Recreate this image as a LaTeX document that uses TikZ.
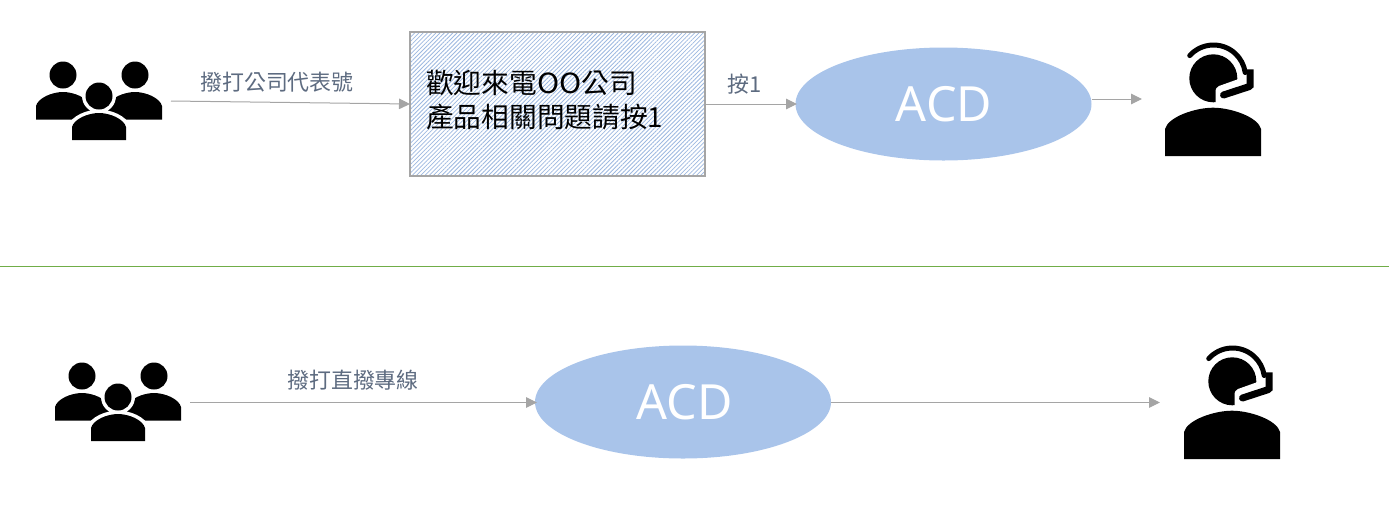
\documentclass[tikz,border=0pt]{standalone}
\usepackage{fontspec}
\setmainfont{Noto Sans}
\newfontfamily\cjkfont{Noto Sans CJK TC}
\usetikzlibrary{arrows.meta,shapes.geometric,patterns.meta}
\definecolor{linegray}{HTML}{A5A5A5}
\definecolor{labelc}{HTML}{5D6B80}
\definecolor{ovalblue}{HTML}{A9C4EA}
\definecolor{hatchblue}{HTML}{9DB8E0}
\definecolor{greenline}{HTML}{70AD47}
\tikzset{
  x=1pt,y=-1pt,
  conn/.style={draw=linegray,line width=1pt,-{Triangle[length=11pt,width=10.5pt]}},
  oval/.style={ellipse,fill=ovalblue,draw=none,minimum width=296pt,minimum height=113pt,inner sep=0pt,text=white,font=\fontsize{48.5}{50}\selectfont},
  lbl/.style={text=labelc,inner sep=0pt,font=\cjkfont\fontsize{21.9}{26}\selectfont},
  people/.pic={
    \fill (63,75) circle[radius=13.5];
    \fill (135,75) circle[radius=13.5];
    \fill (36,119.5) -- (36,106) .. controls (38,98) and (52,92) .. (63,92) .. controls (74,92) and (88,98) .. (90,106) -- (90,119.5) -- cycle;
    \fill (108,119.5) -- (108,106) .. controls (110,98) and (124,92) .. (135,92) .. controls (146,92) and (160,98) .. (162,106) -- (162,119.5) -- cycle;
    \fill[white] (99,96) circle[radius=17];
    \fill[white] (68,142) -- (68,126) .. controls (71,116) and (87,109.5) .. (99,109.5) .. controls (111,109.5) and (127,116) .. (130,126) -- (130,142) -- cycle;
    \fill (99,96) circle[radius=13.5];
    \fill (72,140) -- (72,127) .. controls (74,119) and (88,113) .. (99,113) .. controls (110,113) and (124,119) .. (126,127) -- (126,140) -- cycle;
  },
  agent/.pic={
    \fill (1213.3,78.3) circle[radius=24];
    \fill[white] (1215.5,104) -- (1215.5,92) .. controls (1215.5,88.5) and (1217,87) .. (1219,86) -- (1240,78.5) -- (1242,104) -- cycle;
    \fill (1165,156) -- (1165,129) .. controls (1168,117) and (1195,107.7) .. (1213,107.7) .. controls (1231,107.7) and (1258,117) .. (1261,129) -- (1261,156) -- cycle;
    \draw[line width=5pt,line cap=round] (1213.5,77) ++(-138:32) arc[start angle=-138,end angle=-8,radius=32];
    \fill (1246.5,69.3) -- (1253.6,69.3) -- (1253.6,87.5) -- (1246.5,90) -- cycle;
    \draw[line width=7pt,line cap=round] (1249.5,86.5) -- (1223.5,95);
  }
}
\begin{document}
\begin{tikzpicture}
\useasboundingbox (0,0) rectangle (1389,507);
% top row
\pic at (0,0) {people};
\pic at (0,0) {agent};
\coordinate (c1) at (171,101);
\coordinate (c1e) at (410,104);
\node[draw=linegray,line width=2pt,minimum width=295pt,minimum height=144pt,inner sep=0pt,
  pattern={Lines[angle=45,distance=3pt,line width=0.8pt]},pattern color=hatchblue] (box) at (557.5,104) {};
\node[anchor=west,inner sep=0pt,text=black,font=\cjkfont\fontsize{27.7}{34}\selectfont] (boxtext) at (426,104)
  {\begin{tabular}{@{}l@{}}歡迎來電\scalebox{1.08}[1]{OO}公司\\產品相關問題請按1\end{tabular}};
\node[oval] (acd1) at (943.5,104) {\hspace{1pt}\raisebox{-1pt}{ACD}};
\coordinate (c2) at (1092,99);
\coordinate (c2e) at (1142,99);
\draw[conn] (c1) -- (c1e);
\coordinate (b1) at (705,104);
\coordinate (a1) at (797,104);
\draw[conn] (b1) -- (a1);
\draw[conn] (c2) -- (c2e);
\node[lbl] (l1) at (277,82) {撥打公司代表號};
\node[lbl] (l2) at (745,84) {按1};
% divider
\coordinate (dl) at (0,266.5);
\coordinate (dr) at (1389,266.5);
\draw[greenline,line width=1pt] (dl) -- (dr);
% bottom row
\pic at (19,301) {people};
\pic at (19,303) {agent};
\node[oval] (acd2) at (683,402) {\hspace{3pt}\raisebox{-1pt}{ACD}};
\coordinate (c3) at (190,402.5);
\coordinate (a2) at (537,402.5);
\coordinate (c4) at (831,402.5);
\coordinate (c4e) at (1160,402.5);
\draw[conn] (c3) -- (a2);
\draw[conn] (c4) -- (c4e);
\node[lbl] (l3) at (353,380) {撥打直撥專線};
\end{tikzpicture}
\end{document}
